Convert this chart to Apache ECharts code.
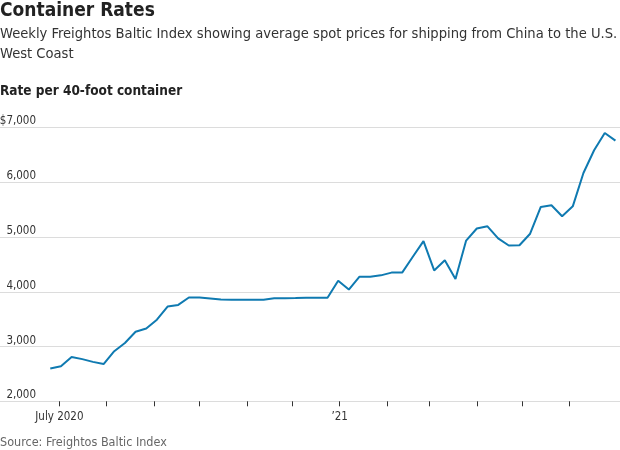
<!DOCTYPE html>
<html>
<head>
<meta charset="utf-8">
<script src="https://cdn.jsdelivr.net/npm/echarts@6/dist/echarts.min.js"></script>
<style>
html,body{margin:0;padding:0;background:#fff;}
#c{width:620px;height:450px;}
</style>
</head>
<body>
<div id="c"></div>
<script>
// ---- data ----
const dates = ['2020-06-25','2020-07-02','2020-07-09','2020-07-16','2020-07-23','2020-07-30',
'2020-08-06','2020-08-13','2020-08-20','2020-08-27','2020-09-03','2020-09-10','2020-09-17','2020-09-24',
'2020-10-01','2020-10-08','2020-10-15','2020-10-22','2020-10-29','2020-11-05','2020-11-12','2020-11-19',
'2020-11-26','2020-12-03','2020-12-10','2020-12-17','2020-12-24','2020-12-31','2021-01-07','2021-01-14',
'2021-01-21','2021-01-28','2021-02-04','2021-02-11','2021-02-18','2021-02-25','2021-03-04','2021-03-11',
'2021-03-18','2021-03-25','2021-04-01','2021-04-08','2021-04-15','2021-04-22','2021-04-29','2021-05-06',
'2021-05-13','2021-05-20','2021-05-27','2021-06-03','2021-06-10','2021-06-17','2021-06-24','2021-07-01'];
const rates = [2600,2640,2810,2770,2720,2680,2915,3065,3270,3330,3490,3730,3760,3895,
3895,3878,3860,3855,3855,3855,3855,3880,3882,3885,3890,3890,3890,4200,4040,4275,
4275,4300,4350,4350,4640,4925,4390,4575,4235,4935,5155,5195,4975,4845,4850,5060,
5550,5580,5380,5560,6170,6585,6900,6760];
const tickDates = ['2020-07-01','2020-08-01','2020-09-01','2020-10-01','2020-11-01','2020-12-01',
'2021-01-01','2021-02-01','2021-03-01','2021-04-01','2021-05-01','2021-06-01'];
const xLabelDates = ['2020-07-01','2021-01-01'];
const xLabelTexts = ['July 2020','\u201921'];
const yTicks = [2000,3000,4000,5000,6000,7000];
const yTickLabels = ['2,000','3,000','4,000','5,000','6,000','$7,000'];
const axisStart = '2020-05-23';
const axisEnd = '2021-07-04';

function ts(s){const p=s.split('-').map(Number);return Date.UTC(p[0],p[1]-1,p[2]);}

const FONT = '"Liberation Sans Narrow","DejaVu Sans Condensed","Roboto",sans-serif';
const labelTs = xLabelDates.map(ts);

const chart = echarts.init(document.getElementById('c'), null, {renderer:'canvas'});
chart.setOption({
  animation:false,
  backgroundColor:'#fff',
  textStyle:{fontFamily:FONT},
  title:[
    {text:'Container Rates',left:-5,top:-3,textStyle:{fontFamily:FONT,fontSize:19,fontWeight:'bold',color:'#222'}},
    {text:'Weekly Freightos Baltic Index showing average spot prices for shipping from China to the U.S.\nWest Coast',
     left:-5,top:19,textStyle:{fontFamily:FONT,fontSize:14.6,fontWeight:'normal',color:'#333',lineHeight:20}},
    {text:'Rate per 40-foot container',left:-5,top:79,textStyle:{fontFamily:FONT,fontSize:13.5,fontWeight:'bold',color:'#222'}},
    {text:'Source: Freightos Baltic Index',left:-5,top:431,textStyle:{fontFamily:FONT,fontSize:12.5,fontWeight:'normal',color:'#666'}}
  ],
  grid:{left:0,right:0,top:127.5,bottom:48.7,containLabel:false,outerBoundsMode:'none'},
  xAxis:{
    type:'value',
    min:ts(axisStart),max:ts(axisEnd),
    axisLine:{show:false},
    splitLine:{show:false},
    axisTick:{show:true,length:5,lineStyle:{color:'#333',width:1},customValues:tickDates.map(ts)},
    axisLabel:{
      customValues:labelTs,
      formatter:function(v){const i=labelTs.indexOf(v);return i>=0?xLabelTexts[i]:'';},
      color:'#333',fontFamily:FONT,fontSize:11.5,margin:10
    }
  },
  yAxis:{
    type:'value',min:2000,max:7000,interval:1000,
    axisLine:{show:false},axisTick:{show:false},
    splitLine:{show:true,lineStyle:{color:'#dcdcdc',width:1}},
    axisLabel:{
      inside:true,margin:36,align:'right',verticalAlign:'bottom',
      color:'#333',fontFamily:FONT,fontSize:11.5,lineHeight:12,padding:[0,0,0,0],
      formatter:function(v){const i=yTicks.indexOf(v);return i>=0?yTickLabels[i]:'';}
    }
  },
  series:[{
    type:'line',
    data:dates.map((d,i)=>[ts(d),rates[i]]),
    showSymbol:false,
    lineStyle:{color:'#0f7ab1',width:2},
    itemStyle:{color:'#0f7ab1'},
    silent:true
  }]
});
</script>
</body>
</html>
